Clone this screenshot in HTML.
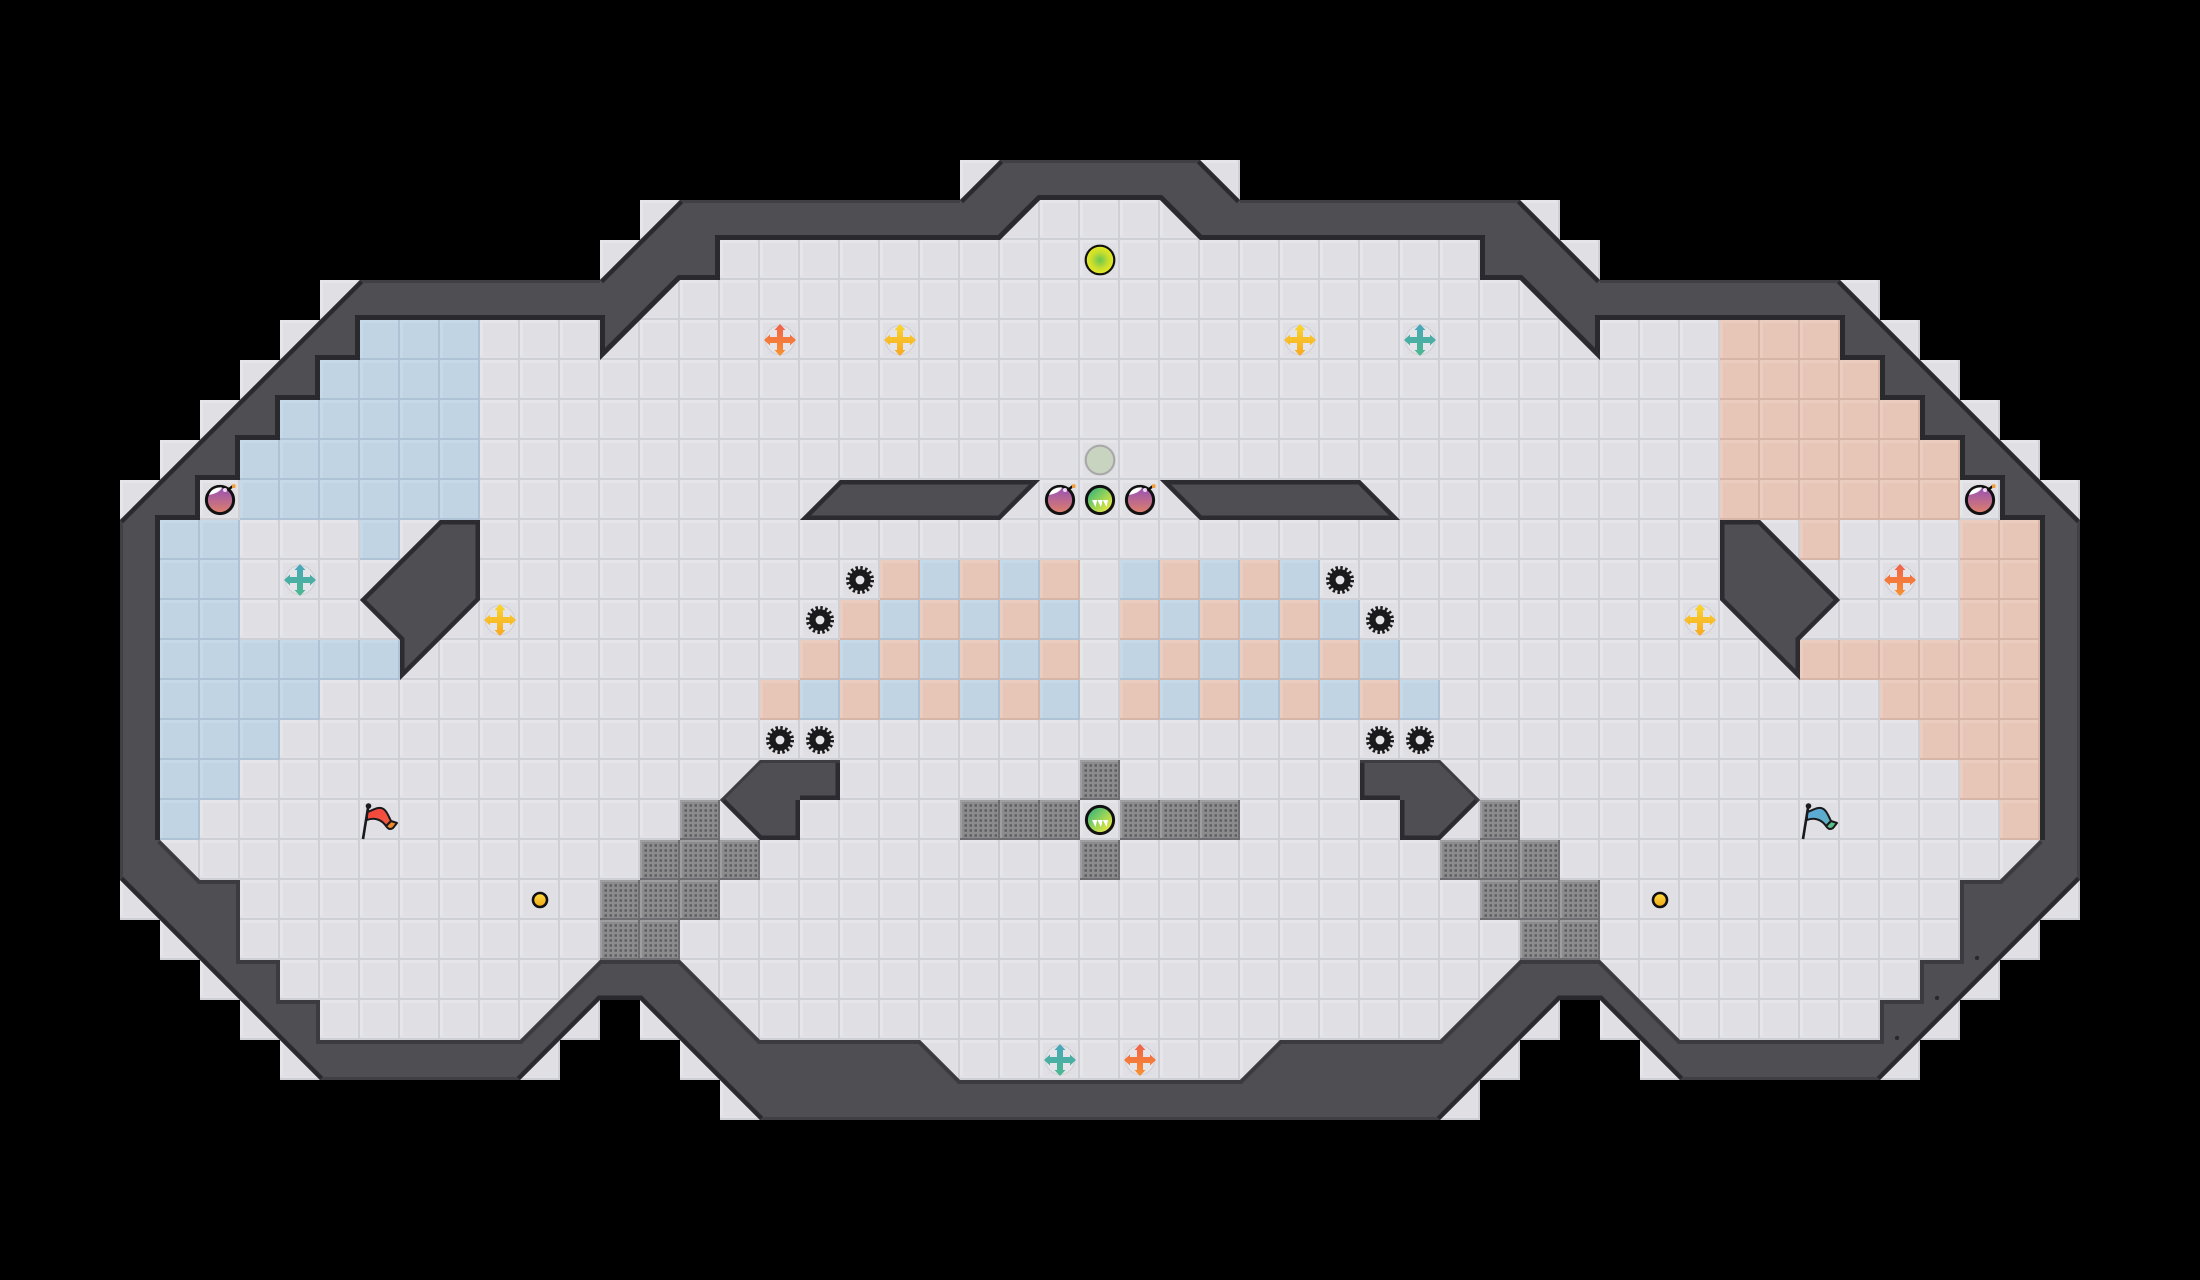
<!DOCTYPE html>
<html lang="en">
<head>
<meta charset="utf-8">
<title>Level map</title>
<style>
html,body{margin:0;padding:0;background:#000;width:2200px;height:1280px;overflow:hidden}
svg{display:block}
</style>
</head>
<body>
<svg xmlns="http://www.w3.org/2000/svg" width="2200" height="1280" viewBox="0 0 2200 1280">
<defs>
<pattern id="t" width="40" height="40" patternUnits="userSpaceOnUse">
<rect width="40" height="40" fill="#dfdfe4"/>
<path d="M0 0h40v3H0zM0 0h3v40H0z" fill="#e6e6ea"/>
<path d="M0 36h40v2H0zM36 0h2v40h-2z" fill="#e2e2e6"/>
<path d="M0 38h40v2H0zM38 0h2v40h-2z" fill="#cfcfd6"/>
</pattern>
<pattern id="b" width="40" height="40" patternUnits="userSpaceOnUse">
<rect width="40" height="40" fill="#c0d4e4"/>
<path d="M0 0h40v3H0zM0 0h3v40H0z" fill="#c6d9e8"/>
<path d="M0 38h40v2H0zM38 0h2v40h-2z" fill="#aec4d6"/>
</pattern>
<pattern id="r" width="40" height="40" patternUnits="userSpaceOnUse">
<rect width="40" height="40" fill="#e7c6b8"/>
<path d="M0 0h40v3H0zM0 0h3v40H0z" fill="#ebcdc0"/>
<path d="M0 38h40v2H0zM38 0h2v40h-2z" fill="#d6b4a6"/>
</pattern>
<pattern id="g" width="40" height="40" patternUnits="userSpaceOnUse">
<rect width="40" height="40" fill="#8c8c8f"/>
<path d="M0 0h40v2H0zM0 0h2v40H0z" fill="#9e9ea1"/>
<path d="M0 38h40v2H0zM38 0h2v40h-2z" fill="#6e6e72"/>
<path d="M4.5 5.5H37M4.5 10.5H37M4.5 15.5H37M4.5 20.5H37M4.5 25.5H37M4.5 30.5H37M4.5 35.5H37" stroke="#5e5e62" stroke-width="2.5" stroke-dasharray="2.5 2.5" fill="none"/>
</pattern>
<clipPath id="wc"><path clip-rule="evenodd" d="M1000 160H1200L1240 200H1520L1600 280H1840L2080 520V880L1880 1080H1680L1600 1000H1560L1440 1120H760L640 1000H600L520 1080H320L120 880V520L360 280H600L680 200H960ZM1040 200L1000 240H720V280H680L600 360V320H360V360H320V400H280V440H240V480H200V520H160V840L200 880H240V960H280V1000H320V1040H520L600 960H680L760 1040H920L960 1080H1240L1280 1040H1440L1520 960H1600L1680 1040H1880V1000H1920V960H1960V880H2000L2040 840V520H2000V480H1960V440H1920V400H1880V360H1840V320H1600V360L1520 280H1480V240H1200L1160 200Z"/></clipPath>
<linearGradient id="bombG" x1="0" y1="0" x2="0" y2="1"><stop offset="0" stop-color="#9450b8"/><stop offset="1" stop-color="#e08068"/></linearGradient>
<linearGradient id="mineG" x1="0.1" y1="0.1" x2="0.9" y2="0.9"><stop offset="0" stop-color="#35b57e"/><stop offset="0.55" stop-color="#a0d654"/><stop offset="1" stop-color="#f2ea40"/></linearGradient>
<radialGradient id="ygG"><stop offset="0" stop-color="#66c850"/><stop offset="0.55" stop-color="#c4dc30"/><stop offset="1" stop-color="#e8ec20"/></radialGradient>
<linearGradient id="coinG" x1="0" y1="0" x2="0" y2="1"><stop offset="0" stop-color="#ffe040"/><stop offset="1" stop-color="#f2a414"/></linearGradient>
<linearGradient id="cT" x1="0" y1="0" x2="0" y2="1"><stop offset="0" stop-color="#4aa6bc"/><stop offset="1" stop-color="#4cb88e"/></linearGradient>
<linearGradient id="cO" x1="0" y1="0" x2="0" y2="1"><stop offset="0" stop-color="#f0604c"/><stop offset="1" stop-color="#f8922e"/></linearGradient>
<linearGradient id="cY" x1="0" y1="0" x2="0" y2="1"><stop offset="0" stop-color="#f8d632"/><stop offset="1" stop-color="#f8a822"/></linearGradient>
<linearGradient id="fR" x1="0" y1="0" x2="1" y2="1"><stop offset="0" stop-color="#f4433c"/><stop offset="1" stop-color="#f05a40"/></linearGradient>
<linearGradient id="fB" x1="0" y1="0" x2="1" y2="1"><stop offset="0" stop-color="#5aa8dc"/><stop offset="1" stop-color="#60b0c0"/></linearGradient>
<g id="bomb">
<path d="M9 -11L13 -14" stroke="#111" stroke-width="2.4"/>
<rect x="12" y="-15.5" width="3.4" height="3.4" fill="#f39a2c"/>
<circle r="13.6" fill="url(#bombG)" stroke="#111" stroke-width="3"/>
<path d="M-11 -5C-9 -11 -3 -13 2 -12.5C1 -9 -5 -6 -11 -5Z" fill="#fff"/>
<circle cx="5" cy="-10" r="2" fill="#f0d8f0"/>
</g>
<g id="mine">
<circle r="13.6" fill="url(#mineG)" stroke="#111" stroke-width="3"/>
<path d="M-8 0L-2.8 0L-4.5 7ZM-2.6 0L2.6 0L1 7ZM2.8 0L8 0L6.5 7Z" fill="#fff"/>
</g>
<path id="cross" d="M-3 -10L-5.5 -10L0 -16L5.5 -10L3 -10V-3H10V-5.5L16 0L10 5.5V3H3V10H5.5L0 16L-5.5 10H-3V3H-10V5.5L-16 0L-10 -5.5V-3H-3Z"/>
<circle id="ring" r="14.5" fill="#e5e5e9" stroke="#d4d4da" stroke-width="1.5"/>
<g id="gear">
<circle r="12" fill="none" stroke="#1a1a1c" stroke-width="4" stroke-dasharray="2.36 2.35"/>
<circle r="10.8" fill="#1a1a1c"/>
<circle r="4.4" fill="#e4e4e8"/>
</g>
<circle id="coin" r="7" fill="url(#coinG)" stroke="#111" stroke-width="2.6"/>
</defs>

<rect width="2200" height="1280" fill="#000"/>

<path fill="url(#t)" d="M960 160H1240V200H960ZM640 200H1560V240H640ZM600 240H1600V280H600ZM320 280H1880V320H320ZM280 320H1920V360H280ZM240 360H1960V400H240ZM200 400H2000V440H200ZM160 440H2040V480H160ZM120 480H2080V920H120ZM160 920H2040V960H160ZM200 960H2000V1000H200ZM240 1000H600V1040H240ZM640 1000H1560V1040H640ZM1600 1000H1960V1040H1600ZM280 1040H560V1080H280ZM680 1040H1520V1080H680ZM1640 1040H1920V1080H1640ZM720 1080H1480V1120H720Z"/>

<path fill="url(#b)" d="M360 320H480V360H360ZM320 360H480V400H320ZM280 400H480V440H280ZM240 440H480V520H240ZM160 520H240V640H160ZM360 520H400V560H360ZM160 640H400V680H160ZM160 680H320V720H160ZM160 720H280V760H160ZM160 760H240V800H160ZM160 800H200V840H160Z"/>
<path fill="url(#r)" d="M1720 320H1840V360H1720ZM1720 360H1880V400H1720ZM1720 400H1920V440H1720ZM1720 440H1960V520H1720ZM1960 520H2040V640H1960ZM1800 520H1840V560H1800ZM1800 640H2040V680H1800ZM1880 680H2040V720H1880ZM1920 720H2040V760H1920ZM1960 760H2040V800H1960ZM2000 800H2040V840H2000Z"/>

<path fill="url(#r)" d="M880 560h40v40h-40zM960 560h40v40h-40zM1040 560h40v40h-40zM840 600h40v40h-40zM920 600h40v40h-40zM1000 600h40v40h-40zM800 640h40v40h-40zM880 640h40v40h-40zM960 640h40v40h-40zM1040 640h40v40h-40zM760 680h40v40h-40zM840 680h40v40h-40zM920 680h40v40h-40zM1000 680h40v40h-40zM1160 560h40v40h-40zM1240 560h40v40h-40zM1120 600h40v40h-40zM1200 600h40v40h-40zM1280 600h40v40h-40zM1160 640h40v40h-40zM1240 640h40v40h-40zM1320 640h40v40h-40zM1120 680h40v40h-40zM1200 680h40v40h-40zM1280 680h40v40h-40zM1360 680h40v40h-40z"/>
<path fill="url(#b)" d="M920 560h40v40h-40zM1000 560h40v40h-40zM880 600h40v40h-40zM960 600h40v40h-40zM1040 600h40v40h-40zM840 640h40v40h-40zM920 640h40v40h-40zM1000 640h40v40h-40zM800 680h40v40h-40zM880 680h40v40h-40zM960 680h40v40h-40zM1040 680h40v40h-40zM1120 560h40v40h-40zM1200 560h40v40h-40zM1280 560h40v40h-40zM1160 600h40v40h-40zM1240 600h40v40h-40zM1320 600h40v40h-40zM1120 640h40v40h-40zM1200 640h40v40h-40zM1280 640h40v40h-40zM1360 640h40v40h-40zM1160 680h40v40h-40zM1240 680h40v40h-40zM1320 680h40v40h-40zM1400 680h40v40h-40z"/>

<path fill="url(#g)" d="M1080 760h40v40h-40zM960 800h120v40H960zM1120 800h120v40h-120zM1080 840h40v40h-40zM680 800h40v40h-40zM640 840h120v40H640zM600 880h120v40H600zM600 920h80v40H600zM1480 800h40v40h-40zM1440 840h120v40h-120zM1480 880h120v40h-120zM1520 920h80v40h-80z"/>

<!-- perimeter wall -->
<path fill="#4e4e53" fill-rule="evenodd" d="M1000 160H1200L1240 200H1520L1600 280H1840L2080 520V880L1880 1080H1680L1600 1000H1560L1440 1120H760L640 1000H600L520 1080H320L120 880V520L360 280H600L680 200H960ZM1040 200L1000 240H720V280H680L600 360V320H360V360H320V400H280V440H240V480H200V520H160V840L200 880H240V960H280V1000H320V1040H520L600 960H680L760 1040H920L960 1080H1240L1280 1040H1440L1520 960H1600L1680 1040H1880V1000H1920V960H1960V880H2000L2040 840V520H2000V480H1960V440H1920V400H1880V360H1840V320H1600V360L1520 280H1480V240H1200L1160 200Z"/>
<g clip-path="url(#wc)" fill="none" stroke-linejoin="miter">
<path stroke="#404045" stroke-width="6" d="M1000 160H1200M1240 200H1520M1600 280H1840M2080 520V880M1880 1080H1680M1440 1120H760M520 1080H320M120 880V520M360 280H600M680 200H960"/>
<path stroke="#3a3a3f" stroke-width="8" d="M160 840L200 880H240V960H280V1000H320V1040H520L600 960H680L760 1040H920L960 1080H1240L1280 1040H1440L1520 960H1600L1680 1040H1880V1000H1920V960H1960V880H2000L2040 840"/>
<path stroke="#29292e" stroke-width="9" d="M120 520L360 280M600 280L680 200M960 200L1000 160M1200 160L1240 200M1520 200L1600 280M1840 280L2080 520M2080 880L1880 1080M1680 1080L1600 1000H1560L1440 1120M760 1120L640 1000H600L520 1080M320 1080L120 880"/>
<path stroke="#29292e" stroke-width="10" d="M160 840V520H200V480H240V440H280V400H320V360H360V320H600V360L680 280H720V240H1000L1040 200H1160L1200 240H1480V280H1520L1600 360V320H1840V360H1880V400H1920V440H1960V480H2000V520H2040V840"/>
</g>

<!-- interior walls -->
<g fill="#4e4e53" stroke="none">
<path d="M440 520H480V600L400 680V640L360 600Z"/>
<path d="M1760 520H1720V600L1800 680V640L1840 600Z"/>
<path d="M840 480H1040L1000 520H800Z"/>
<path d="M1160 480H1360L1400 520H1200Z"/>
<path d="M760 760H840V800H800V840H760L720 800Z"/>
<path d="M1440 760H1360V800H1400V840H1440L1480 800Z"/>
</g>
<clipPath id="ic"><path d="M440 520H480V600L400 680V640L360 600ZM1760 520H1720V600L1800 680V640L1840 600ZM840 480H1040L1000 520H800ZM1160 480H1360L1400 520H1200ZM760 760H840V800H800V840H760L720 800ZM1440 760H1360V800H1400V840H1440L1480 800Z"/></clipPath>
<g clip-path="url(#ic)" fill="none" stroke="#2b2b30" stroke-width="9">
<path d="M440 520H480V600L400 680V640L360 600Z"/>
<path d="M1760 520H1720V600L1800 680V640L1840 600Z"/>
<path d="M840 480H1040L1000 520H800Z"/>
<path d="M1160 480H1360L1400 520H1200Z"/>
<path d="M800 800V840H760L720 800M840 760V800H800"/>
<path d="M1400 800V840H1440L1480 800M1360 760V800H1400"/>
<path stroke="#3c3c41" stroke-width="6" d="M720 800L760 760H840M1480 800L1440 760H1360"/>
</g>

<!-- wall specks -->
<circle cx="1977" cy="958" r="2.2" fill="#2a2a2e"/>
<circle cx="1937" cy="998" r="2.2" fill="#2a2a2e"/>
<circle cx="1897" cy="1038" r="2.2" fill="#2a2a2e"/>

<!-- items -->
<use href="#bomb" x="220" y="500"/>
<use href="#bomb" x="1060" y="500"/>
<use href="#bomb" x="1140" y="500"/>
<use href="#bomb" x="1980" y="500"/>
<use href="#mine" x="1100" y="500"/>
<use href="#mine" x="1100" y="820"/>
<circle cx="1100" cy="260" r="14.3" fill="url(#ygG)" stroke="#111" stroke-width="2.2"/>
<circle cx="1100" cy="460" r="14.3" fill="#c9d4c0" stroke="#a9a9a9" stroke-width="2.2"/>

<use href="#ring" x="780" y="340"/><use href="#cross" x="780" y="340" fill="url(#cO)"/>
<use href="#ring" x="900" y="340"/><use href="#cross" x="900" y="340" fill="url(#cY)"/>
<use href="#ring" x="1300" y="340"/><use href="#cross" x="1300" y="340" fill="url(#cY)"/>
<use href="#ring" x="1420" y="340"/><use href="#cross" x="1420" y="340" fill="url(#cT)"/>
<use href="#ring" x="300" y="580"/><use href="#cross" x="300" y="580" fill="url(#cT)"/>
<use href="#ring" x="500" y="620"/><use href="#cross" x="500" y="620" fill="url(#cY)"/>
<use href="#ring" x="1900" y="580"/><use href="#cross" x="1900" y="580" fill="url(#cO)"/>
<use href="#ring" x="1700" y="620"/><use href="#cross" x="1700" y="620" fill="url(#cY)"/>
<use href="#ring" x="1060" y="1060"/><use href="#cross" x="1060" y="1060" fill="url(#cT)"/>
<use href="#ring" x="1140" y="1060"/><use href="#cross" x="1140" y="1060" fill="url(#cO)"/>

<use href="#gear" x="860" y="580"/>
<use href="#gear" x="820" y="620"/>
<use href="#gear" x="780" y="740"/>
<use href="#gear" x="820" y="740"/>
<use href="#gear" x="1340" y="580"/>
<use href="#gear" x="1380" y="620"/>
<use href="#gear" x="1380" y="740"/>
<use href="#gear" x="1420" y="740"/>

<use href="#coin" x="540" y="900"/>
<use href="#coin" x="1660" y="900"/>

<!-- red flag -->
<g stroke="#1a1a1c" stroke-width="2" stroke-linejoin="round">
<path d="M386 826L391 821L397 823L393 828C390 830 388 829 386 826Z" fill="#f28a2a"/>
<path d="M367 812C372 811 376 807 381 808C386 809 388 815 391 821L386 826C382 820 375 817 367 820Z" fill="url(#fR)"/>
<path d="M363 839L368 808" fill="none" stroke-width="2.6"/>
<circle cx="368.5" cy="806" r="2.8" fill="#1a1a1c" stroke="none"/>
</g>
<!-- blue flag -->
<g stroke="#1a1a1c" stroke-width="2" stroke-linejoin="round" transform="translate(1440 0)">
<path d="M386 826L391 821L397 823L393 828C390 830 388 829 386 826Z" fill="#5cc08a"/>
<path d="M367 812C372 811 376 807 381 808C386 809 388 815 391 821L386 826C382 820 375 817 367 820Z" fill="url(#fB)"/>
<path d="M363 839L368 808" fill="none" stroke-width="2.6"/>
<circle cx="368.5" cy="806" r="2.8" fill="#1a1a1c" stroke="none"/>
</g>
</svg>
</body>
</html>
